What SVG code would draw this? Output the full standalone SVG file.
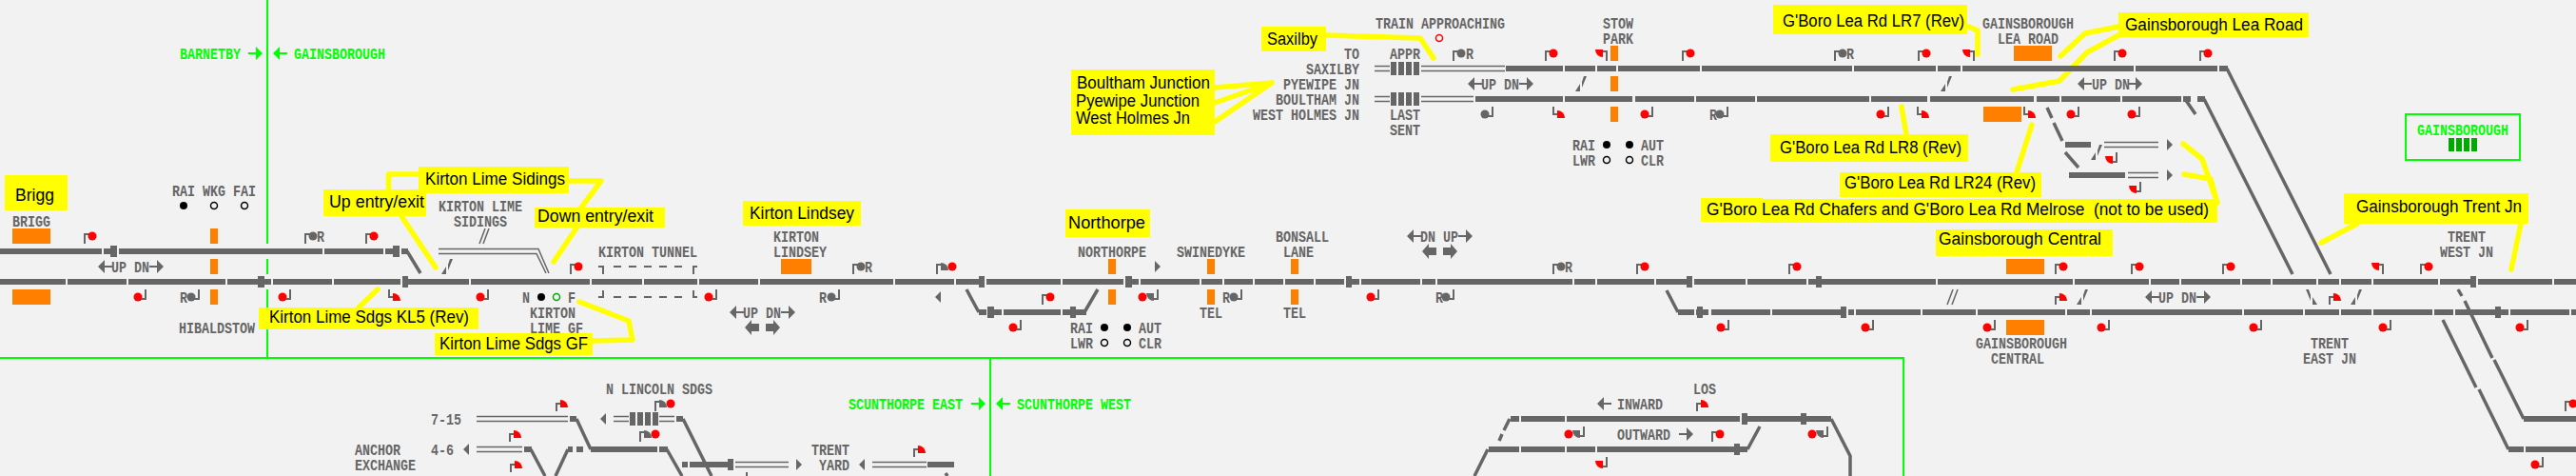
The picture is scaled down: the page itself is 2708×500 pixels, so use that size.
<svg xmlns="http://www.w3.org/2000/svg" width="2708" height="500" viewBox="0 0 2708 500">
<style>
text{font-family:"Liberation Mono",monospace;font-size:17px;font-weight:700;fill:#666;lengthAdjust:spacingAndGlyphs}
.g{fill:#0f0}
.y{font-family:"Liberation Sans",Arial,sans-serif;font-size:18px;font-weight:400;fill:#000}
.trk{fill:none;stroke:#666;stroke-width:6}
.dg{fill:none;stroke:#666;stroke-width:3.5}
.th{fill:none;stroke:#666;stroke-width:1.5}
.p{fill:none;stroke:#666;stroke-width:2}
.cl{fill:none;stroke:#ff0;stroke-width:5.5;stroke-linejoin:round;stroke-linecap:round}
.b{fill:#666}
.or{fill:#ff8000}
.ye{fill:#ff0}
.gl{fill:none;stroke:#0f0;stroke-width:2}
</style>
<defs>
<g id="su"><path class="p" d="M-8 8V-2H0"/><circle r="4.5" fill="#f00"/></g>
<g id="sd"><path class="p" d="M8-8V2H0"/><circle r="4.5" fill="#f00"/></g>
<g id="gu"><path class="p" d="M-8 8V-2H0"/><circle r="4.5" fill="#666"/></g>
<g id="gd"><path class="p" d="M8-8V2H0"/><circle r="4.5" fill="#666"/></g>
<g id="wu"><path class="p" d="M-8 8V0H-3"/><path fill="#f00" d="M-4-4A8 8 0 0 1 4 4H-4z"/></g>
<g id="wl"><path class="p" d="M-8-8V0H-3"/><path fill="#f00" d="M-4-4A8 8 0 0 1 4 4H-4z"/></g>
<g id="wr"><path class="p" d="M8-8V2H3"/><path fill="#f00" d="M-4-4H4V4A8 8 0 0 1-4-4z"/></g>
<g id="wf"><path class="p" d="M8 8V-2H3"/><path fill="#f00" d="M-4-4H4V4A8 8 0 0 1-4-4z"/></g>
<g id="sg"><path class="p" d="M-16 8V-2H-11"/><path class="b" d="M-12-4A8 8 0 0 1-4 4H-12z"/><circle r="4.5" fill="#f00"/></g>
<g id="sh"><path class="p" d="M16-8V2H11"/><path class="b" d="M4-4H12V4A8 8 0 0 1 4-4z"/><circle r="4.5" fill="#f00"/></g>
<path id="tl" d="M0 0L6-6V6z"/>
<path id="tr" d="M0-6L6 0 0 6z"/>
<path id="ar" d="M0-1H8V-7L15 0 8 7V1H0z"/>
<path id="al" d="M15-1H7V-7L0 0 7 7V1H15z"/>
<path id="br" d="M0-4H8V-8L15 0 8 8V4H0z"/>
<path id="bl" d="M15-4H7V-8L0 0 7 8V4H15z"/>
<path id="sl" d="M0 16L5 8V16zM7 12L12 0H9L7 6z"/>
<circle id="bk" r="4" fill="#000"/>
<circle id="wh" r="3.5" fill="none" stroke="#000" stroke-width="1.5"/>
</defs>
<rect width="2708" height="500" fill="#f2f2f2"/>

<g id="boundaries">
<path class="gl" d="M281 0V256M281 272V288M281 304V323M281 346V376M0 376H2001V500M1041 376V500"/>
<rect x="2529" y="120" width="120" height="48" class="gl"/>
<path class="gl" d="M0 0"/>
<rect x="2574" y="145" width="6" height="14" fill="#0a0"/><rect x="2582" y="145" width="6" height="14" fill="#0a0"/><rect x="2590" y="145" width="6" height="14" fill="#0a0"/><rect x="2598" y="145" width="6" height="14" fill="#0a0"/>
<use href="#ar" x="261" y="56" fill="#0f0"/><use href="#al" x="287" y="56" fill="#0f0"/>
<use href="#ar" x="1021" y="424" fill="#0f0"/><use href="#al" x="1047" y="424" fill="#0f0"/>
<text class="g" x="189" y="62" textLength="64" lengthAdjust="spacingAndGlyphs">BARNETBY</text>
<text class="g" x="309" y="62" textLength="96" lengthAdjust="spacingAndGlyphs">GAINSBOROUGH</text>
<text class="g" x="892" y="430" textLength="120" lengthAdjust="spacingAndGlyphs">SCUNTHORPE EAST</text>
<text class="g" x="1069" y="430" textLength="120" lengthAdjust="spacingAndGlyphs">SCUNTHORPE WEST</text>
<text class="g" x="2541" y="142" textLength="96" lengthAdjust="spacingAndGlyphs">GAINSBOROUGH</text>
</g>

<g id="callouts">
<path class="cl" d="M440 183H408.5V200M422 227L458 281M598 190H632L611 218M607 238L582 275M397 304L377 323M609 317L661 337L665 357L623 358"/>
<path class="cl" d="M1394 37L1493 40L1507 61M1277 92L1337 87M1277 108L1337 87M1277 128L1337 87M2067 27L2079 32V57M2227 28L2192 35L2166 59M2231 35L2194 55L2165 85L2116 94M1999 112L2004 141M2136 131L2120 181M2295 151L2315 167L2331 213M2296 183L2324 188L2331 213M2478 235L2440 255M2650 235L2640 283"/>
<g id="c-brigg"><rect class="ye" x="5" y="184" width="66" height="37"/><text class="y" x="16" y="211" textLength="41" lengthAdjust="spacingAndGlyphs">Brigg</text></g>
<g id="c-sidings"><rect class="ye" x="440" y="175" width="158" height="28"/><text class="y" x="447" y="194" textLength="147" lengthAdjust="spacingAndGlyphs">Kirton Lime Sidings</text></g>
<g id="c-up"><rect class="ye" x="340" y="199" width="108" height="28"/><text class="y" x="346" y="218" textLength="100" lengthAdjust="spacingAndGlyphs">Up entry/exit</text></g>
<g id="c-down"><rect class="ye" x="562" y="218" width="137" height="21"/><text class="y" x="565" y="233" textLength="122" lengthAdjust="spacingAndGlyphs">Down entry/exit</text></g>
<g id="c-kl5"><rect class="ye" x="272" y="323" width="231" height="23"/><text class="y" x="283" y="339" textLength="210" lengthAdjust="spacingAndGlyphs">Kirton Lime Sdgs KL5 (Rev)</text></g>
<g id="c-gf"><rect class="ye" x="457" y="350" width="166" height="23"/><text class="y" x="462" y="367" textLength="156" lengthAdjust="spacingAndGlyphs">Kirton Lime Sdgs GF</text></g>
<g id="c-lindsey"><rect class="ye" x="781" y="211" width="124" height="26"/><text class="y" x="788" y="230" textLength="110" lengthAdjust="spacingAndGlyphs">Kirton Lindsey</text></g>
<g id="c-northorpe"><rect class="ye" x="1120" y="220" width="89" height="29"/><text class="y" x="1123" y="240" textLength="81" lengthAdjust="spacingAndGlyphs">Northorpe</text></g>
<g id="c-saxilby"><rect class="ye" x="1326" y="28" width="68" height="26"/><text class="y" x="1332" y="47" textLength="53" lengthAdjust="spacingAndGlyphs">Saxilby</text></g>
<g id="c-boultham"><rect class="ye" x="1126" y="73" width="151" height="69"/><text class="y" x="1132" y="93" textLength="140" lengthAdjust="spacingAndGlyphs">Boultham Junction</text><text class="y" x="1131" y="112" textLength="130" lengthAdjust="spacingAndGlyphs">Pyewipe Junction</text><text class="y" x="1131" y="130" textLength="120" lengthAdjust="spacingAndGlyphs">West Holmes Jn</text></g>
<g id="c-lr7"><rect class="ye" x="1864" y="5" width="204" height="31"/><text class="y" x="1874" y="28" textLength="191" lengthAdjust="spacingAndGlyphs">G'Boro Lea Rd LR7 (Rev)</text></g>
<g id="c-learoad"><rect class="ye" x="2227" y="13" width="200" height="26"/><text class="y" x="2234" y="32" textLength="187" lengthAdjust="spacingAndGlyphs">Gainsborough Lea Road</text></g>
<g id="c-lr8"><rect class="ye" x="1861" y="141" width="208" height="29"/><text class="y" x="1871" y="161" textLength="191" lengthAdjust="spacingAndGlyphs">G'Boro Lea Rd LR8 (Rev)</text></g>
<g id="c-lr24"><rect class="ye" x="1934" y="181" width="212" height="26"/><text class="y" x="1939" y="198" textLength="201" lengthAdjust="spacingAndGlyphs">G'Boro Lea Rd LR24 (Rev)</text></g>
<g id="c-chafers"><rect class="ye" x="1788" y="208" width="65" height="25"/><rect class="ye" x="1850" y="209" width="481" height="25"/><text class="y" x="1794" y="226" textLength="528" lengthAdjust="spacingAndGlyphs" xml:space="preserve">G'Boro Lea Rd Chafers and G'Boro Lea Rd Melrose  (not to be used)</text></g>
<g id="c-central"><rect class="ye" x="2035" y="241" width="186" height="28"/><text class="y" x="2038" y="257" textLength="171" lengthAdjust="spacingAndGlyphs">Gainsborough Central</text></g>
<g id="c-trent"><rect class="ye" x="2464" y="203" width="194" height="32"/><text class="y" x="2477" y="223" textLength="174" lengthAdjust="spacingAndGlyphs">Gainsborough Trent Jn</text></g>
</g>

<g id="connectors">
<path class="trk" d="M0 264H107M109 264H123M125 264H339M341 264H403M405 264H420M422 264H429
M0 296H69M71 296H133M135 296H237M239 296H285M287 296H349M351 296H421M423 296H493M495 296H620M622 296H675M677 296H733M735 296H797M799 296H939M941 296H1003M1005 296H1035M1037 296H1115M1117 296H1181M1183 296H1197M1199 296H1261M1263 296H1285M1287 296H1317M1319 296H1349M1351 296H1381M1383 296H1413M1415 296H1429M1431 296H1493M1495 296H1509M1511 296H1653M1655 296H1677M1679 296H1739M1741 296H1779M1781 296H1835M1837 296H1899M1901 296H2035M2037 296H2179M2181 296H2259M2261 296H2291M2293 296H2355M2357 296H2387M2389 296H2435M2437 296H2459M2461 296H2493M2495 296H2563M2565 296H2603M2605 296H2683M2685 296H2708
M1029 328H1037M1039 328H1053M1055 328H1115M1117 328H1142
M1764 328H1781M1783 328H1796M1799 328H1861M1863 328H1941M1943 328H1949M1951 328H2019M2021 328H2077M2079 328H2171M2173 328H2197M2199 328H2357M2359 328H2421M2423 328H2459M2461 328H2493M2495 328H2557M2559 328H2579M2581 328H2637M2639 328H2701M2703 328H2708
M1583 72H1643M1645 72H1677M1679 72H1699M1701 72H1787M1789 72H1947M1949 72H2035M2037 72H2061M2063 72H2243M2245 72H2331M2333 72H2342
M1551 104H1643M1645 104H1716M1719 104H1781M1783 104H1845M1847 104H1965M1967 104H2026M2029 104H2138M2141 104H2165M2167 104H2229M2231 104H2293M2295 104H2303M2310 104H2318
M2171 152H2198M2175 184H2234
M2653 440H2708M2637 472H2653M2655 472H2708
M599 440H606M551 472H559M597 472H602M606 472H613M621 472H691M693 472H702M711 440H718M717 488H723M725 488H771M975 488H1003
M1588 440H1597M1599 440H1645M1647 440H1829M1831 440H1893M1895 440H1925M1565 472H1597M1599 472H1645M1647 472H1677M1679 472H1837"/>
<g class="b">
<rect x="116" y="258" width="7" height="12"/><rect x="413" y="258" width="7" height="12"/><rect x="271" y="290" width="7" height="12"/><rect x="423" y="290" width="6" height="12"/><rect x="1029" y="290" width="6" height="12"/><rect x="1183" y="290" width="7" height="12"/><rect x="1415" y="290" width="6" height="12"/><rect x="1773" y="290" width="6" height="12"/><rect x="1909" y="290" width="6" height="12"/><rect x="2597" y="290" width="6" height="12"/><rect x="1038" y="322" width="7" height="12"/><rect x="1125" y="322" width="6" height="12"/><rect x="1784" y="322" width="6" height="12"/><rect x="1935" y="322" width="6" height="12"/><rect x="2623" y="322" width="6" height="12"/><rect x="765" y="482" width="6" height="12"/><rect x="1831" y="434" width="6" height="12"/><rect x="1893" y="434" width="6" height="12"/><rect x="1823" y="466" width="6" height="12"/>
<rect x="1462" y="65" width="6" height="14"/><rect x="1470" y="65" width="6" height="14"/><rect x="1478" y="65" width="6" height="14"/><rect x="1486" y="65" width="6" height="14"/>
<rect x="1462" y="97" width="6" height="14"/><rect x="1470" y="97" width="6" height="14"/><rect x="1478" y="97" width="6" height="14"/><rect x="1486" y="97" width="6" height="14"/>
<rect x="662" y="433" width="6" height="14"/><rect x="670" y="433" width="6" height="14"/><rect x="678" y="433" width="6" height="14"/><rect x="686" y="433" width="6" height="14"/>
</g>
<path class="dg" d="M428 264L442 287M1016 304L1029 328M1140 328L1154 304M1752 305L1764 328
M2341 72L2450 288M2317 104L2410 288M2297 104L2308 120
M2152 113L2157 124M2159 129L2168 148M2171 160L2185 176
M2584 304L2588 311M2591 316L2620 376M2622 378L2653 440M2568 336L2603 407M2606 409L2637 472
M606 440L621 472M558 472L573 500M597 472L584 500M701 472L717 500M718 440L748 500M994 497L996 500
M1587 440L1581 452M1579 456L1576 463M1925 440L1945 479V500M1564 472L1550 500M1837 472L1850 448"/>
<path class="th" d="M501 437.5H597M501 442.5H597M501 469.5H549M501 474.5H549M645 437.5H661M645 442.5H661M693 437.5H709M693 442.5H709M773 485.5H829M773 490.5H829M917 485.5H974M917 490.5H974
M1445 69.5H1461M1445 74.5H1461M1494 69.5H1582M1494 74.5H1582M1445 101.5H1461M1445 106.5H1461M1494 101.5H1549M1494 106.5H1549
M2212 149.5H2269M2212 154.5H2269M2237 181.5H2269M2237 186.5H2269
M461 261.5H566L577 287M461 266.5H564L574 287
M504 256L510 240M508 256L514 240M2047 320L2053 304M2052 320L2058 304"/>
<path class="p" stroke-dasharray="8 8" d="M645 280H717M645 312H717"/>
<path class="p" d="M629 280H634V288M634 305V312H629M733 280H729V288M729 305V312H733M785 496V500"/>
<g class="b">
<use href="#sl" x="464" y="272"/><use href="#sl" x="1656" y="80"/><use href="#sl" x="2040" y="80"/><use href="#sl" x="2183" y="304"/><use href="#sl" x="2471" y="304"/><use href="#sl" x="2198" y="152"/>
<use href="#sl" transform="translate(2436 304) scale(-1 1)"/>
<use href="#tl" x="631" y="440"/><use href="#tl" x="487" y="472"/><use href="#tr" x="837" y="488"/><use href="#tl" x="903" y="488"/><use href="#tl" x="983" y="312"/><use href="#tr" x="1214" y="280"/><use href="#tr" x="2278" y="152"/><use href="#tr" x="2278" y="184"/>
<use href="#al" x="103" y="280"/><use href="#ar" x="157" y="280"/>
<use href="#al" x="767" y="328"/><use href="#ar" x="821" y="328"/><use href="#bl" x="783" y="344"/><use href="#br" x="805" y="344"/>
<use href="#al" x="1479" y="248"/><use href="#ar" x="1533" y="248"/><use href="#bl" x="1495" y="264"/><use href="#br" x="1517" y="264"/>
<use href="#al" x="1543" y="88"/><use href="#ar" x="1597" y="88"/>
<use href="#al" x="2184" y="88"/><use href="#ar" x="2237" y="88"/>
<use href="#al" x="2255" y="312"/><use href="#ar" x="2309" y="312"/>
<use href="#al" x="1679" y="424"/><use href="#ar" x="1765" y="456"/>
</g>
</g>

<g id="platforms">
<rect class="or" x="13" y="240" width="40" height="16"/><rect class="or" x="13" y="304" width="40" height="16"/>
<rect class="or" x="221" y="240" width="8" height="16"/><rect class="or" x="221" y="272" width="8" height="16"/><rect class="or" x="221" y="304" width="8" height="16"/>
<rect class="or" x="821" y="272" width="32" height="16"/>
<rect class="or" x="1165" y="272" width="8" height="16"/><rect class="or" x="1165" y="304" width="8" height="16"/>
<rect class="or" x="1269" y="272" width="8" height="16"/><rect class="or" x="1269" y="304" width="8" height="16"/>
<rect class="or" x="1357" y="272" width="8" height="16"/><rect class="or" x="1357" y="304" width="8" height="16"/>
<rect class="or" x="1693" y="48" width="8" height="16"/><rect class="or" x="1693" y="80" width="8" height="16"/><rect class="or" x="1693" y="112" width="8" height="16"/>
<rect class="or" x="2117" y="48" width="40" height="16"/><rect class="or" x="2085" y="112" width="40" height="16"/>
<rect class="or" x="2109" y="272" width="40" height="16"/><rect class="or" x="2109" y="336" width="40" height="16"/>
</g>

<g id="signals">
<use href="#su" x="97" y="248"/><use href="#su" x="393" y="248"/><use href="#gu" x="329" y="248"/>
<use href="#sd" x="145" y="312"/><use href="#sd" x="297" y="312"/><use href="#sd" x="505" y="312"/><use href="#gd" x="201" y="312"/><use href="#wl" x="417" y="312"/>
<use href="#su" x="608" y="280"/><use href="#sd" x="745" y="312"/><use href="#gd" x="874" y="312"/><use href="#gu" x="905" y="280"/><use href="#sg" x="1001" y="280"/>
<use href="#sd" x="1065" y="344"/><use href="#su" x="1104" y="312"/><use href="#sh" x="1201" y="312"/><use href="#gd" x="1297" y="312"/>
<use href="#sd" x="1441" y="312"/><use href="#gd" x="1520" y="312"/><use href="#gu" x="1641" y="280"/><use href="#su" x="1729" y="280"/><use href="#su" x="1889" y="280"/>
<use href="#sd" x="1809" y="344"/><use href="#sd" x="1961" y="344"/><use href="#sd" x="2089" y="344"/>
<use href="#su" x="2169" y="280"/><use href="#su" x="2249" y="280"/><use href="#su" x="2345" y="280"/><use href="#su" x="2553" y="280"/><use href="#wf" x="2497" y="280"/>
<use href="#sd" x="2209" y="344"/><use href="#sd" x="2369" y="344"/><use href="#sd" x="2505" y="344"/><use href="#sd" x="2649" y="344"/>
<use href="#wu" x="2169" y="312"/><use href="#wu" x="2457" y="312"/>
<use href="#su" x="2705" y="424"/><use href="#sd" x="2665" y="488"/>
<use href="#wu" x="593" y="424"/><use href="#wu" x="544" y="456"/><use href="#wu" x="545" y="488"/><use href="#sg" x="705" y="424"/><use href="#sg" x="689" y="456"/><use href="#wu" x="969" y="472"/>
<use href="#sh" x="1649" y="456"/><use href="#sh" x="1905" y="456"/><use href="#wu" x="1792" y="424"/><use href="#su" x="1808" y="456"/><use href="#wr" x="1681" y="488"/>
<use href="#gu" x="1536" y="56"/><use href="#su" x="1633" y="56"/><use href="#su" x="1777" y="56"/><use href="#wf" x="1681" y="56"/>
<use href="#gd" x="1561" y="120"/><use href="#wl" x="1641" y="120"/><use href="#sd" x="1729" y="120"/><use href="#gd" x="1808" y="120"/>
<use href="#gu" x="1937" y="56"/><use href="#su" x="2025" y="56"/><use href="#wf" x="2067" y="56"/><use href="#su" x="2231" y="56"/><use href="#su" x="2321" y="56"/>
<use href="#sd" x="1977" y="120"/><use href="#wl" x="2024" y="120"/><use href="#wl" x="2136" y="120"/><use href="#sd" x="2177" y="120"/><use href="#sd" x="2241" y="120"/>
<use href="#wr" x="2217" y="168"/><use href="#wr" x="2242" y="199"/>
<circle cx="1513" cy="40" r="3.5" fill="none" stroke="#f00" stroke-width="1.5"/>
<use href="#bk" x="193" y="216"/><use href="#wh" x="225" y="216"/><use href="#wh" x="257" y="216"/>
<use href="#bk" x="569" y="312"/><circle cx="585" cy="312" r="3.5" fill="none" stroke="#0a0" stroke-width="1.5"/>
<use href="#bk" x="1161" y="344"/><use href="#bk" x="1185" y="344"/><use href="#wh" x="1161" y="360"/><use href="#wh" x="1185" y="360"/>
<use href="#bk" x="1689" y="152"/><use href="#bk" x="1713" y="152"/><use href="#wh" x="1689" y="168"/><use href="#wh" x="1713" y="168"/>
</g>

<g id="labels">
<text x="13" y="238" textLength="40" lengthAdjust="spacingAndGlyphs">BRIGG</text>
<text x="181" y="206" textLength="88" lengthAdjust="spacingAndGlyphs">RAI WKG FAI</text>
<text x="188" y="350" textLength="80" lengthAdjust="spacingAndGlyphs">HIBALDSTOW</text>
<text x="117" y="286" textLength="40" lengthAdjust="spacingAndGlyphs" xml:space="preserve">UP DN</text>
<text x="461" y="222" textLength="88" lengthAdjust="spacingAndGlyphs">KIRTON LIME</text>
<text x="477" y="238" textLength="56" lengthAdjust="spacingAndGlyphs">SIDINGS</text>
<text x="629" y="270" textLength="104" lengthAdjust="spacingAndGlyphs">KIRTON TUNNEL</text>
<text x="549" y="318" textLength="8" lengthAdjust="spacingAndGlyphs">N</text>
<text x="597" y="318" textLength="8" lengthAdjust="spacingAndGlyphs">F</text>
<text x="557" y="334" textLength="48" lengthAdjust="spacingAndGlyphs">KIRTON</text>
<text x="557" y="350" textLength="56" lengthAdjust="spacingAndGlyphs">LIME GF</text>
<text x="333" y="254" textLength="8" lengthAdjust="spacingAndGlyphs">R</text>
<text x="189" y="318" textLength="8" lengthAdjust="spacingAndGlyphs">R</text>
<text x="813" y="254" textLength="48" lengthAdjust="spacingAndGlyphs">KIRTON</text>
<text x="813" y="270" textLength="56" lengthAdjust="spacingAndGlyphs">LINDSEY</text>
<text x="861" y="318" textLength="8" lengthAdjust="spacingAndGlyphs">R</text>
<text x="909" y="286" textLength="8" lengthAdjust="spacingAndGlyphs">R</text>
<text x="781" y="334" textLength="40" lengthAdjust="spacingAndGlyphs">UP DN</text>
<text x="1133" y="270" textLength="72" lengthAdjust="spacingAndGlyphs">NORTHORPE</text>
<text x="1237" y="270" textLength="72" lengthAdjust="spacingAndGlyphs">SWINEDYKE</text>
<text x="1341" y="254" textLength="56" lengthAdjust="spacingAndGlyphs">BONSALL</text>
<text x="1349" y="270" textLength="32" lengthAdjust="spacingAndGlyphs">LANE</text>
<text x="1261" y="334" textLength="24" lengthAdjust="spacingAndGlyphs">TEL</text>
<text x="1349" y="334" textLength="24" lengthAdjust="spacingAndGlyphs">TEL</text>
<text x="1285" y="318" textLength="8" lengthAdjust="spacingAndGlyphs">R</text>
<text x="1125" y="350" textLength="24" lengthAdjust="spacingAndGlyphs">RAI</text>
<text x="1125" y="366" textLength="24" lengthAdjust="spacingAndGlyphs">LWR</text>
<text x="1197" y="350" textLength="24" lengthAdjust="spacingAndGlyphs">AUT</text>
<text x="1197" y="366" textLength="24" lengthAdjust="spacingAndGlyphs">CLR</text>
<text x="1493" y="254" textLength="40" lengthAdjust="spacingAndGlyphs">DN UP</text>
<text x="1509" y="318" textLength="8" lengthAdjust="spacingAndGlyphs">R</text>
<text x="1645" y="286" textLength="8" lengthAdjust="spacingAndGlyphs">R</text>
<text x="2077" y="366" textLength="96" lengthAdjust="spacingAndGlyphs">GAINSBOROUGH</text>
<text x="2093" y="382" textLength="56" lengthAdjust="spacingAndGlyphs">CENTRAL</text>
<text x="2269" y="318" textLength="40" lengthAdjust="spacingAndGlyphs">UP DN</text>
<text x="2429" y="366" textLength="40" lengthAdjust="spacingAndGlyphs">TRENT</text>
<text x="2421" y="382" textLength="56" lengthAdjust="spacingAndGlyphs">EAST JN</text>
<text x="2573" y="254" textLength="40" lengthAdjust="spacingAndGlyphs">TRENT</text>
<text x="2565" y="270" textLength="56" lengthAdjust="spacingAndGlyphs">WEST JN</text>
<text x="453" y="446" textLength="32" lengthAdjust="spacingAndGlyphs">7-15</text>
<text x="453" y="478" textLength="24" lengthAdjust="spacingAndGlyphs">4-6</text>
<text x="373" y="478" textLength="48" lengthAdjust="spacingAndGlyphs">ANCHOR</text>
<text x="373" y="494" textLength="64" lengthAdjust="spacingAndGlyphs">EXCHANGE</text>
<text x="637" y="414" textLength="112" lengthAdjust="spacingAndGlyphs">N LINCOLN SDGS</text>
<text x="853" y="478" textLength="40" lengthAdjust="spacingAndGlyphs">TRENT</text>
<text x="861" y="494" textLength="32" lengthAdjust="spacingAndGlyphs">YARD</text>
<text x="1700" y="430" textLength="48" lengthAdjust="spacingAndGlyphs">INWARD</text>
<text x="1700" y="462" textLength="56" lengthAdjust="spacingAndGlyphs">OUTWARD</text>
<text x="1780" y="414" textLength="24" lengthAdjust="spacingAndGlyphs">LOS</text>
<text x="1446" y="30" textLength="136" lengthAdjust="spacingAndGlyphs">TRAIN APPROACHING</text>
<text x="1685" y="30" textLength="32" lengthAdjust="spacingAndGlyphs">STOW</text>
<text x="1685" y="46" textLength="32" lengthAdjust="spacingAndGlyphs">PARK</text>
<text x="1413" y="62" textLength="16" lengthAdjust="spacingAndGlyphs">TO</text>
<text x="1373" y="78" textLength="56" lengthAdjust="spacingAndGlyphs">SAXILBY</text>
<text x="1349" y="94" textLength="80" lengthAdjust="spacingAndGlyphs">PYEWIPE JN</text>
<text x="1341" y="110" textLength="88" lengthAdjust="spacingAndGlyphs">BOULTHAM JN</text>
<text x="1317" y="126" textLength="112" lengthAdjust="spacingAndGlyphs">WEST HOLMES JN</text>
<text x="1461" y="62" textLength="32" lengthAdjust="spacingAndGlyphs">APPR</text>
<text x="1461" y="126" textLength="32" lengthAdjust="spacingAndGlyphs">LAST</text>
<text x="1461" y="142" textLength="32" lengthAdjust="spacingAndGlyphs">SENT</text>
<text x="1541" y="62" textLength="8" lengthAdjust="spacingAndGlyphs">R</text>
<text x="1557" y="94" textLength="40" lengthAdjust="spacingAndGlyphs">UP DN</text>
<text x="1797" y="126" textLength="8" lengthAdjust="spacingAndGlyphs">R</text>
<text x="1653" y="158" textLength="24" lengthAdjust="spacingAndGlyphs">RAI</text>
<text x="1653" y="174" textLength="24" lengthAdjust="spacingAndGlyphs">LWR</text>
<text x="1725" y="158" textLength="24" lengthAdjust="spacingAndGlyphs">AUT</text>
<text x="1725" y="174" textLength="24" lengthAdjust="spacingAndGlyphs">CLR</text>
<text x="1941" y="62" textLength="8" lengthAdjust="spacingAndGlyphs">R</text>
<text x="2084" y="30" textLength="96" lengthAdjust="spacingAndGlyphs">GAINSBOROUGH</text>
<text x="2100" y="46" textLength="64" lengthAdjust="spacingAndGlyphs">LEA ROAD</text>
<text x="2199" y="94" textLength="40" lengthAdjust="spacingAndGlyphs">UP DN</text>
</g>
</svg>
